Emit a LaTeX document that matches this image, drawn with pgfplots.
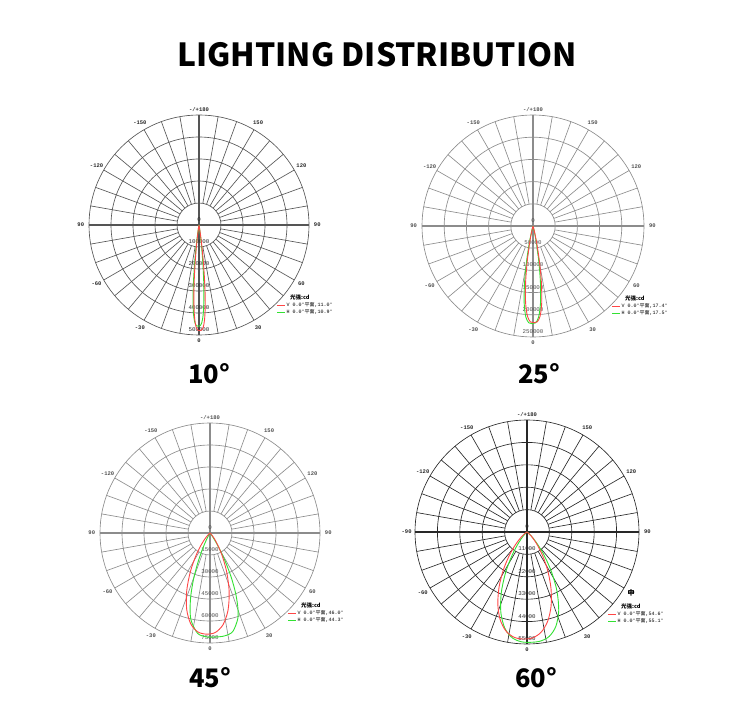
\documentclass[border=0pt]{standalone}
\usepackage{pgfplots}
\pgfplotsset{compat=1.18}
\usepackage{pgfplotstable}
\usepackage{fontspec}
\setmainfont{Liberation Sans}
\newfontfamily\cjk{Noto Sans CJK SC}
\newfontfamily\mono{Liberation Mono}
\definecolor{gridA}{RGB}{85,85,85}
\definecolor{gridB}{RGB}{140,140,140}
\definecolor{gridD}{RGB}{40,40,40}
\definecolor{lblA}{RGB}{40,40,40}
\definecolor{lblB}{RGB}{80,80,80}
\definecolor{cred}{RGB}{255,70,70}
\definecolor{cgreen}{RGB}{50,225,50}

% ---- data: a = angle from the beam axis (deg), I = intensity (cd)
\pgfplotstableread[row sep=\\]{
a I\\ -15 0\\ -12 360\\ -10 7400\\ -9 23000\\ -8 56900\\ -7 115000\\ -6 195200\\ -5 285200\\ -4 367700\\ -3 428900\\ -2 464300\\ -1 478000\\ 0 480000\\ 1 478000\\ 2 464300\\ 3 428900\\ 4 367700\\ 5 285200\\ 6 195200\\ 7 115000\\ 8 56900\\ 9 23000\\ 10 7400\\ 12 360\\ 15 0\\
}\redA
\pgfplotstableread[row sep=\\]{
a I\\ -15 0\\ -12 350\\ -10 7100\\ -9 22100\\ -8 54500\\ -7 110200\\ -6 187000\\ -5 273300\\ -4 352400\\ -3 411100\\ -2 444900\\ -1 458100\\ 0 460000\\ 1 458100\\ 2 444900\\ 3 411100\\ 4 352400\\ 5 273300\\ 6 187000\\ 7 110200\\ 8 54500\\ 9 22100\\ 10 7100\\ 12 350\\ 15 0\\
}\greenA
\pgfplotstableread[row sep=\\]{
a I\\ -24 0\\ -20 50\\ -16 2900\\ -14 12100\\ -12 35400\\ -10 76100\\ -8 127200\\ -6 173700\\ -4 203800\\ -2 216200\\ 0 218000\\ 2 216200\\ 4 203800\\ 6 173700\\ 8 127200\\ 10 76100\\ 12 35400\\ 14 12100\\ 16 2900\\ 20 50\\ 24 0\\
}\redB
\pgfplotstableread[row sep=\\]{
a I\\ -24 0\\ -20 50\\ -16 2950\\ -14 12300\\ -12 35700\\ -10 76800\\ -8 128300\\ -6 175300\\ -4 205700\\ -2 218200\\ 0 220000\\ 2 218200\\ 4 205700\\ 6 175300\\ 8 128300\\ 10 76800\\ 12 35700\\ 14 12300\\ 16 2950\\ 20 50\\ 24 0\\
}\greenB
\pgfplotstableread[row sep=\\]{
a I\\ -70 0\\ -60 30\\ -50 550\\ -40 4350\\ -35 9530\\ -30 17950\\ -25 29380\\ -20 42320\\ -15 54380\\ -10 63290\\ -5 67950\\ 0 69000\\ 5 67950\\ 10 63290\\ 15 54380\\ 20 42320\\ 25 29380\\ 30 17950\\ 35 9530\\ 40 4350\\ 50 550\\ 60 30\\ 70 0\\
}\redC
\pgfplotstableread[row sep=\\]{
a I\\ -50 0\\ -40 45\\ -35 940\\ -32.5 2860\\ -30 6890\\ -27.5 13680\\ -25 23050\\ -22.5 33950\\ -20 44790\\ -17.5 54190\\ -15 61370\\ -10 68980\\ -5 70870\\ 0 71000\\ 5 70870\\ 10 68980\\ 15 61370\\ 17.5 54190\\ 20 44790\\ 22.5 33950\\ 25 23050\\ 27.5 13680\\ 30 6890\\ 32.5 2860\\ 35 940\\ 40 45\\ 50 0\\
}\greenC
\pgfplotstableread[row sep=\\]{
a I\\ -80 0\\ -70 36\\ -60 370\\ -50 2260\\ -45 4690\\ -40 8680\\ -35 14480\\ -30 21880\\ -25 30160\\ -20 38260\\ -15 45040\\ -10 49720\\ -5 52080\\ 0 52600\\ 5 52080\\ 10 49720\\ 15 45040\\ 20 38260\\ 25 30160\\ 30 21880\\ 35 14480\\ 40 8680\\ 45 4690\\ 50 2260\\ 60 370\\ 70 36\\ 80 0\\
}\redD
\pgfplotstableread[row sep=\\]{
a I\\ -70 0\\ -60 42\\ -50 860\\ -45 2645\\ -40 6500\\ -35 13080\\ -30 22150\\ -25 32290\\ -20 41580\\ -15 48460\\ -10 52430\\ -5 53980\\ 0 54200\\ 5 53980\\ 10 52430\\ 15 48460\\ 20 41580\\ 25 32290\\ 30 22150\\ 35 13080\\ 40 6500\\ 45 2645\\ 50 860\\ 60 42\\ 70 0\\
}\greenD

% grid: #1 cx, #2 cy, #3 R(pt), #4 grid colour, #5 label colour, #6 left label, #7 radial labels
\newcommand{\polargrid}[7]{%
\begin{scope}[shift={(#1pt,#2pt)}, x=1pt, y=1pt]
 \foreach \k in {1,...,5}{\draw[#4, line width=0.65pt] (0,0) circle[radius={\k*#3/5}];}
 \foreach \a in {0,10,...,350}{\draw[#4, line width=0.65pt] (\a:{#3/5}) -- (\a:#3);}
 \draw[#4, line width=1.1pt] (-#3,0) -- (#3,0) (0,-#3) -- (0,#3);
 \foreach \t/\l in {150/150,120/120,90/90,60/60,30/30,-30/-30,-60/-60,-120/-120,-150/-150}{%
   \node[text=#5, inner sep=0, font=\mono\bfseries\fontsize{5.5}{6}\selectfont] at ({\t-90}:{1.075*#3}) {\l};}
 \node[text=#5, inner sep=0, font=\mono\bfseries\fontsize{5.5}{6}\selectfont] at (0,{1.05*#3}) {-/+180};
 \node[text=#5, inner sep=0, font=\mono\bfseries\fontsize{5.5}{6}\selectfont] at (0,{-1.05*#3}) {0};
 \node[text=#5, inner sep=0, font=\mono\bfseries\fontsize{5.5}{6}\selectfont] at ({-1.075*#3},0.5) {#6};
 \foreach \k/\v in {#7}{%
   \node[text=#5, inner sep=0, font=\mono\fontsize{5.8}{6}\selectfont] at (0,{-(\k*#3/5-5.5)}) {\v};}
\end{scope}}

% legend: #1 cx, #2 cy, #3 V value, #4 H value, #5 extra x shift
\newcommand{\plegend}[5]{%
\begin{scope}[shift={(#1pt+#5pt,#2pt)}, x=1pt, y=1pt]
 \node[anchor=west, inner sep=0, font=\cjk\bfseries\fontsize{5.5}{6}\selectfont] at (91,-72.5) {光强:cd};
 \draw[cred, line width=0.8pt] (78,-80) -- (86,-80);
 \node[anchor=west, inner sep=0, font=\mono\fontsize{5}{6}\selectfont] at (87.5,-80) {V 0.0°{\cjk 平面},#3};
 \draw[cgreen, line width=0.8pt] (78,-87) -- (86,-87);
 \node[anchor=west, inner sep=0, font=\mono\fontsize{5}{6}\selectfont] at (87.5,-87) {H 0.0°{\cjk 平面},#4};
\end{scope}}

\newcommand{\curve}[4]{%
\addplot[#1, line width=0.9pt, smooth, no markers] table[x expr={\thisrow{I}/#2*cos(\thisrow{a}+(#3)-90)}, y expr={\thisrow{I}/#2*sin(\thisrow{a}+(#3)-90)}] {#4};}

\pgfplotsset{polarbox/.style n args={3}{at={(#1pt,#2pt)}, anchor=center, scale only axis, width=#3pt, height=#3pt, xmin=-1, xmax=1, ymin=-1, ymax=1, hide axis, clip=false}}

\begin{document}
\begin{tikzpicture}
\path[use as bounding box] (0,0) rectangle (750pt,716pt);

\node[font=\cjk\bfseries\fontsize{31.8}{32}\selectfont] at (377pt,661pt) {LIGHTING DISTRIBUTION};

% chart 1
\polargrid{199}{491}{110}{gridA}{lblA}{90}{0/0,1/100000,2/200000,3/300000,4/400000,5/500000}
\plegend{199}{491}{11.0°}{10.9°}{0}
\begin{axis}[polarbox={199}{491}{220}]
\curve{cgreen}{500000}{-0.4}{\greenA}
\curve{cred}{500000}{0.4}{\redA}
\end{axis}

% chart 2
\polargrid{533}{490}{111}{gridB}{lblB}{90}{0/0,1/50000,2/100000,3/150000,4/200000,5/250000}
\plegend{533}{490}{17.4°}{17.5°}{1}
\begin{axis}[polarbox={533}{490}{222}]
\curve{cgreen}{250000}{-0.5}{\greenB}
\curve{cred}{250000}{0.5}{\redB}
\end{axis}

% chart 3
\polargrid{210}{183}{110}{gridB}{lblB}{90}{0/0,1/15000,2/30000,3/45000,4/60000,5/75000}
\plegend{210}{183}{46.0°}{44.3°}{0}
\begin{axis}[polarbox={210}{183}{220}]
\curve{cgreen}{75000}{3}{\greenC}
\curve{cred}{75000}{-2}{\redC}
\end{axis}

% chart 4
\polargrid{527}{184}{112}{gridD}{lblA}{-90}{0/0,1/11000,2/22000,3/33000,4/44000,5/55000}
\plegend{527}{182}{54.6°}{55.1°}{3}
\node[font=\cjk\bfseries\fontsize{7}{7}\selectfont, inner sep=0] at (631pt,123pt) {中};
\begin{axis}[polarbox={527}{184}{224}]
\curve{cgreen}{55000}{2}{\greenD}
\curve{cred}{55000}{-2}{\redD}
\end{axis}

\node[font=\cjk\bfseries\fontsize{25.5}{26}\selectfont] at (209pt,342pt) {10°};
\node[font=\cjk\bfseries\fontsize{25.5}{26}\selectfont] at (539pt,342pt) {25°};
\node[font=\cjk\bfseries\fontsize{25.5}{26}\selectfont] at (210pt,38pt) {45°};
\node[font=\cjk\bfseries\fontsize{25.5}{26}\selectfont] at (536pt,38pt) {60°};
\end{tikzpicture}
\end{document}
